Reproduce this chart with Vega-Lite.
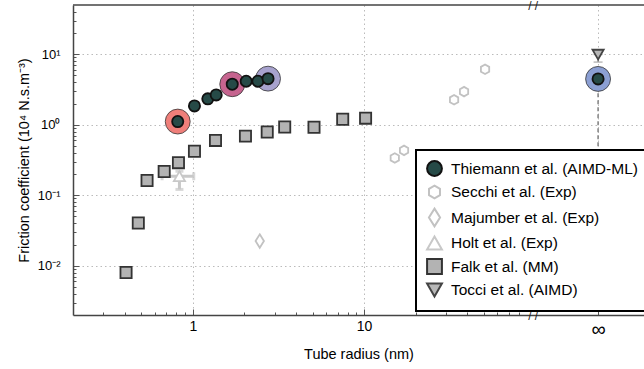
{
  "$schema": "https://vega.github.io/schema/vega-lite/v6.json",
  "width": 571,
  "height": 310,
  "autosize": "none",
  "padding": {"left": 73, "top": 5, "right": 0, "bottom": 54},
  "config": {
    "view": {"stroke": null},
    "font": "Liberation Sans",
    "axis": {
      "domainColor": "#444",
      "domainWidth": 1.5,
      "tickColor": "#555",
      "tickWidth": 1,
      "gridColor": "#bbbbbb",
      "gridDash": [1.5, 3],
      "gridWidth": 1,
      "labelFont": "Liberation Sans",
      "labelColor": "#000",
      "titleFont": "Liberation Sans",
      "titleFontWeight": "normal",
      "titleFontSize": 14.5,
      "titleColor": "#000",
      "labelOverlap": false,
      "labelFlush": false
    },
    "legend": {
      "labelFont": "Liberation Sans",
      "labelFontSize": 15.5,
      "labelColor": "#000",
      "labelLimit": 400,
      "strokeColor": "#000",
      "strokeWidth": 2,
      "fillColor": "#ffffff",
      "padding": 10,
      "rowPadding": 1.5,
      "symbolSize": 220,
      "symbolStrokeWidth": 2,
      "labelOffset": 8,
      "cornerRadius": 0
    }
  },
  "datasets": {
    "pts": [
      {"series": "Thiemann et al. (AIMD-ML)", "x": 0.817, "y": 1.11},
      {"series": "Thiemann et al. (AIMD-ML)", "x": 1.023, "y": 1.85},
      {"series": "Thiemann et al. (AIMD-ML)", "x": 1.224, "y": 2.33},
      {"series": "Thiemann et al. (AIMD-ML)", "x": 1.37, "y": 2.65},
      {"series": "Thiemann et al. (AIMD-ML)", "x": 1.70, "y": 3.76},
      {"series": "Thiemann et al. (AIMD-ML)", "x": 2.05, "y": 4.14},
      {"series": "Thiemann et al. (AIMD-ML)", "x": 2.40, "y": 4.14},
      {"series": "Thiemann et al. (AIMD-ML)", "x": 2.75, "y": 4.51},
      {"series": "Thiemann et al. (AIMD-ML)", "x": 232, "y": 4.47},
      {"series": "Secchi et al. (Exp)", "x": 50.8, "y": 6.12},
      {"series": "Secchi et al. (Exp)", "x": 38.3, "y": 2.95},
      {"series": "Secchi et al. (Exp)", "x": 33.5, "y": 2.26},
      {"series": "Secchi et al. (Exp)", "x": 17.1, "y": 0.433},
      {"series": "Secchi et al. (Exp)", "x": 15.1, "y": 0.338},
      {"series": "Majumber et al. (Exp)", "x": 2.46, "y": 0.0224},
      {"series": "Holt et al. (Exp)", "x": 0.836, "y": 0.186},
      {"series": "Falk et al. (MM)", "x": 0.408, "y": 0.0080},
      {"series": "Falk et al. (MM)", "x": 0.481, "y": 0.0403},
      {"series": "Falk et al. (MM)", "x": 0.541, "y": 0.162},
      {"series": "Falk et al. (MM)", "x": 0.681, "y": 0.217},
      {"series": "Falk et al. (MM)", "x": 0.825, "y": 0.290},
      {"series": "Falk et al. (MM)", "x": 1.023, "y": 0.42},
      {"series": "Falk et al. (MM)", "x": 1.357, "y": 0.60},
      {"series": "Falk et al. (MM)", "x": 2.03, "y": 0.69},
      {"series": "Falk et al. (MM)", "x": 2.72, "y": 0.789},
      {"series": "Falk et al. (MM)", "x": 3.44, "y": 0.928},
      {"series": "Falk et al. (MM)", "x": 5.10, "y": 0.92},
      {"series": "Falk et al. (MM)", "x": 7.50, "y": 1.196},
      {"series": "Falk et al. (MM)", "x": 10.2, "y": 1.24},
      {"series": "Tocci et al. (AIMD)", "x": 232, "y": 9.9}
    ],
    "halos": [
      {"x": 0.817, "y": 1.11, "halo": "a"},
      {"x": 1.70, "y": 3.76, "halo": "b"},
      {"x": 2.75, "y": 4.51, "halo": "c"},
      {"x": 232, "y": 4.47, "halo": "d"}
    ],
    "holt": [
      {"x": 0.836, "xlo": 0.662, "xhi": 1.013, "y": 0.186, "ylo": 0.121, "yhi": 0.219}
    ],
    "dash": [
      {"x": 232, "lo": 0.1, "hi": 4.47}
    ],
    "tocci": [
      {"x": 232, "lo": 7.75, "hi": 9.9}
    ],
    "breaks": [
      {"x": 97, "y": 50},
      {"x": 97, "y": 0.002}
    ],
    "frame": [
      {"y": 50}
    ]
  },
  "layer": [
    {
      "data": {"name": "dash"},
      "mark": {"type": "rule", "color": "#808080", "strokeWidth": 1.5, "strokeDash": [4, 3]},
      "encoding": {
        "x": {
          "field": "x", "type": "quantitative",
          "title": "Tube radius (nm)",
          "scale": {"type": "log", "domain": [0.2, 430], "nice": false},
          "axis": {
            "orient": "bottom",
            "values": [0.3, 0.4, 0.5, 0.6, 0.7, 0.8, 0.9, 1, 2, 3, 4, 5, 6, 7, 8, 9, 10, 20, 30, 40, 50, 60, 70, 80, 232],
            "labelExpr": "datum.value == 1 ? '1' : datum.value == 10 ? '10' : datum.value == 232 ? '∞' : ''",
            "tickSize": {"condition": {"test": "indexof([1,10,232], datum.value) >= 0", "value": -6}, "value": -3},
            "gridOpacity": {"condition": {"test": "indexof([1,10,232], datum.value) >= 0", "value": 1}, "value": 0},
            "labelFontSize": {"condition": {"test": "datum.value == 232", "value": 20}, "value": 14},
            "grid": true,
            "labelPadding": 10,
            "title": "Tube radius (nm)",
            "titlePadding": 8
          }
        },
        "y": {
          "field": "lo", "type": "quantitative",
          "title": "Friction coefficient (10⁴ N.s.m⁻³)",
          "scale": {"type": "log", "domain": [0.002, 50], "nice": false},
          "axis": {
            "values": [0.003, 0.004, 0.005, 0.006, 0.007, 0.008, 0.009, 0.01, 0.02, 0.03, 0.04, 0.05, 0.06, 0.07, 0.08, 0.09, 0.1, 0.2, 0.3, 0.4, 0.5, 0.6, 0.7, 0.8, 0.9, 1, 2, 3, 4, 5, 6, 7, 8, 9, 10, 20, 30, 40],
            "labelExpr": "datum.value == 10 ? '10¹' : datum.value == 1 ? '10⁰' : datum.value == 0.1 ? '10⁻¹' : datum.value == 0.01 ? '10⁻²' : ''",
            "tickSize": {"condition": {"test": "indexof([10,1,0.1,0.01], datum.value) >= 0", "value": -6}, "value": -3},
            "gridOpacity": {"condition": {"test": "indexof([10,1,0.1,0.01], datum.value) >= 0", "value": 1}, "value": 0},
            "grid": true,
            "labelFontSize": 13,
            "labelPadding": 19,
            "title": "Friction coefficient (10⁴ N.s.m⁻³)",
            "titlePadding": 6
          }
        },
        "y2": {"field": "hi"}
      }
    },
    {
      "data": {"name": "frame"},
      "mark": {"type": "rule", "color": "#444", "strokeWidth": 1.5},
      "encoding": {
        "y": {"field": "y", "type": "quantitative", "title": "Friction coefficient (10⁴ N.s.m⁻³)"}
      }
    },
    {
      "data": {"name": "holt"},
      "mark": {"type": "errorbar", "ticks": true, "color": "#c8c8c8", "thickness": 3, "size": 8},
      "encoding": {
        "x": {"field": "xlo", "type": "quantitative", "title": "Tube radius (nm)"},
        "x2": {"field": "xhi"},
        "y": {"field": "y", "type": "quantitative", "title": "Friction coefficient (10⁴ N.s.m⁻³)"}
      }
    },
    {
      "data": {"name": "holt"},
      "mark": {"type": "errorbar", "ticks": true, "color": "#c8c8c8", "thickness": 3, "size": 8},
      "encoding": {
        "y": {"field": "ylo", "type": "quantitative", "title": "Friction coefficient (10⁴ N.s.m⁻³)"},
        "y2": {"field": "yhi"},
        "x": {"field": "x", "type": "quantitative", "title": "Tube radius (nm)"}
      }
    },
    {
      "data": {"name": "tocci"},
      "mark": {"type": "errorbar", "ticks": true, "color": "#888888", "thickness": 1.2, "size": 9},
      "encoding": {
        "y": {"field": "lo", "type": "quantitative", "title": "Friction coefficient (10⁴ N.s.m⁻³)"},
        "y2": {"field": "hi"},
        "x": {"field": "x", "type": "quantitative", "title": "Tube radius (nm)"}
      }
    },
    {
      "data": {"name": "halos"},
      "mark": {"type": "point", "filled": true, "opacity": 1, "size": 620, "stroke": "#333", "strokeWidth": 0.8, "shape": "circle"},
      "encoding": {
        "x": {"field": "x", "type": "quantitative", "title": "Tube radius (nm)"},
        "y": {"field": "y", "type": "quantitative", "title": "Friction coefficient (10⁴ N.s.m⁻³)"},
        "color": {
          "field": "halo", "type": "nominal",
          "scale": {"domain": ["a", "b", "c", "d"], "range": ["#ef7f7a", "#c6648f", "#a7a2ce", "#8b9fd3"]},
          "legend": null
        }
      }
    },
    {
      "data": {"name": "pts"},
      "mark": {"type": "point", "filled": true, "opacity": 1, "strokeWidth": 1.8, "size": 125},
      "encoding": {
        "x": {"field": "x", "type": "quantitative", "title": "Tube radius (nm)"},
        "y": {"field": "y", "type": "quantitative", "title": "Friction coefficient (10⁴ N.s.m⁻³)"},
        "shape": {
          "field": "series", "type": "nominal",
          "scale": {
            "domain": ["Thiemann et al. (AIMD-ML)", "Secchi et al. (Exp)", "Majumber et al. (Exp)", "Holt et al. (Exp)", "Falk et al. (MM)", "Tocci et al. (AIMD)"],
            "range": ["circle", "M0,-0.85L0.74,-0.43L0.74,0.43L0,0.85L-0.74,0.43L-0.74,-0.43Z", "M0,-1.2L0.75,0L0,1.2L-0.75,0Z", "triangle-up", "square", "triangle-down"]
          },
          "legend": {"title": null, "orient": "none", "legendX": 343, "legendY": 145}
        },
        "fill": {
          "field": "series", "type": "nominal",
          "scale": {
            "domain": ["Thiemann et al. (AIMD-ML)", "Secchi et al. (Exp)", "Majumber et al. (Exp)", "Holt et al. (Exp)", "Falk et al. (MM)", "Tocci et al. (AIMD)"],
            "range": ["#264a47", "#ffffff", "#ffffff", "#ffffff", "#b3b3b3", "#b8b8b8"]
          },
          "legend": {"title": null, "orient": "none", "legendX": 343, "legendY": 145}
        },
        "stroke": {
          "field": "series", "type": "nominal",
          "scale": {
            "domain": ["Thiemann et al. (AIMD-ML)", "Secchi et al. (Exp)", "Majumber et al. (Exp)", "Holt et al. (Exp)", "Falk et al. (MM)", "Tocci et al. (AIMD)"],
            "range": ["#111111", "#c2c2c2", "#c2c2c2", "#c8c8c8", "#333333", "#444444"]
          },
          "legend": {"title": null, "orient": "none", "legendX": 343, "legendY": 145}
        }
      }
    },
    {
      "data": {"name": "breaks"},
      "mark": {"type": "text", "text": "/ /", "fontSize": 12, "dy": 1, "color": "#222", "align": "center", "baseline": "middle", "font": "Liberation Sans"},
      "encoding": {
        "x": {"field": "x", "type": "quantitative", "title": "Tube radius (nm)"},
        "y": {"field": "y", "type": "quantitative", "title": "Friction coefficient (10⁴ N.s.m⁻³)"}
      }
    }
  ]
}
